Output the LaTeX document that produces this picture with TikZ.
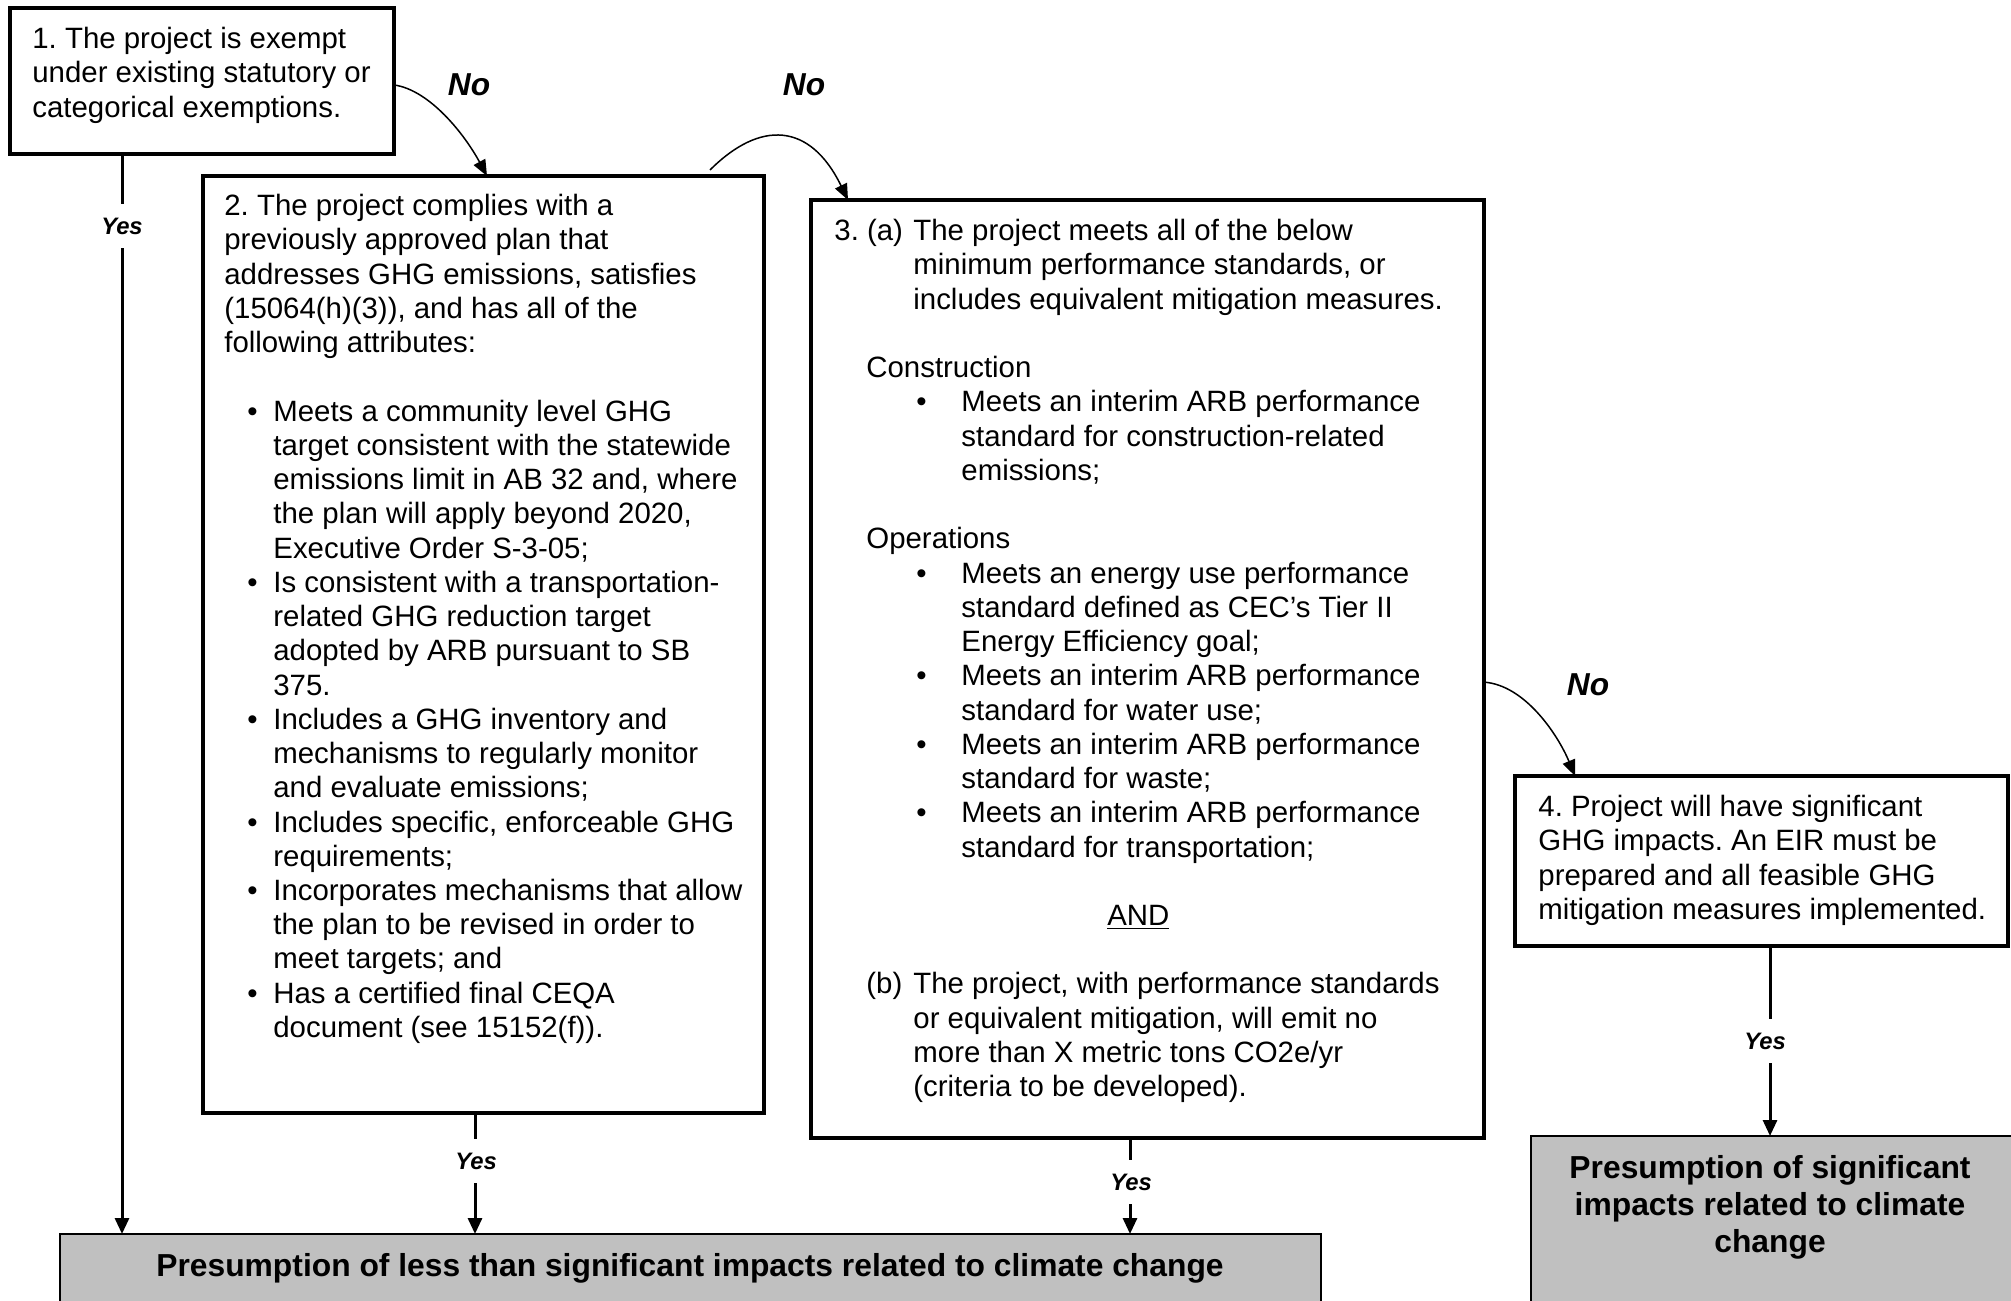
\documentclass[tikz,border=0pt]{standalone}
\usepackage{fontspec}
\setmainfont{Liberation Sans}
\usetikzlibrary{arrows.meta,calc}
\definecolor{gfill}{HTML}{C0C0C0}
\frenchspacing
\newcommand\bua{\makebox[11.5pt]{}\makebox[13pt][l]{\textbullet}}
\newcommand\ina{\makebox[24.5pt]{}}
\newcommand\bub{\makebox[41pt]{}\makebox[22.5pt][l]{\textbullet}}
\newcommand\inb{\makebox[63.5pt]{}}
\newcommand\inc{\makebox[39.5pt]{}}
\newcommand\ind{\makebox[16pt]{}}
\begin{document}
\frenchspacing
\begin{tikzpicture}[x=0.5pt,y=-0.5pt,
  box/.style={draw, line width=2pt, inner sep=0, outer sep=0, anchor=north west},
  gbox/.style={draw, line width=1pt, fill=gfill, inner sep=0, outer sep=0, anchor=north west},
  txt/.style={anchor=north west, inner sep=0, align=left, font=\fontsize{14.7}{17.12}\selectfont},
  btxt/.style={inner sep=0, align=center, font=\fontsize{15.9}{18.5}\selectfont\bfseries},
  vline/.style={line width=1.5pt, -{Triangle[length=8pt,width=7pt]}},
  cline/.style={line width=0.75pt, -{Triangle[length=8pt,width=6.5pt]}},
  yeslbl/.style={font=\fontsize{11.9}{14}\selectfont\bfseries\itshape, fill=white, inner xsep=2pt, inner ysep=7pt},
  nolbl/.style={font=\fontsize{15.85}{18}\selectfont\bfseries\itshape, inner sep=0}]
\useasboundingbox (0,0) rectangle (2011,1300);
% boxes
\node[box, minimum width=192pt, minimum height=73pt] (b1) at (10,8) {};
\node[box, minimum width=280.5pt, minimum height=468.5pt] (b2) at (203,176) {};
\node[box, minimum width=336.5pt, minimum height=469pt] (b3) at (811,200) {};
\node[box, minimum width=246.5pt, minimum height=85pt] (b4) at (1515,776) {};
\node[gbox, minimum width=630.5pt, minimum height=45pt] (b5) at (60,1234) {};
\node[gbox, minimum width=242.5pt, minimum height=90pt] (b6) at (1531,1136) {};
% texts
\node[txt] (t1) at (32,27) {1. The project is exempt\\under existing statutory or\\categorical exemptions.};
\node[txt] (t2) at (224,194) {2. The project complies with a\\
previously approved plan that\\
addresses GHG emissions, satisfies\\
(15064(h)(3)), and has all of the\\
following attributes:\\
\mbox{}\\
\bua Meets a community level GHG\\
\ina target consistent with the statewide\\
\ina emissions limit in AB 32 and, where\\
\ina the plan will apply beyond 2020,\\
\ina Executive Order S-3-05;\\
\bua Is consistent with a transportation-\\
\ina related GHG reduction target\\
\ina adopted by ARB pursuant to SB\\
\ina 375.\\
\bua Includes a GHG inventory and\\
\ina mechanisms to regularly monitor\\
\ina and evaluate emissions;\\
\bua Includes specific, enforceable GHG\\
\ina requirements;\\
\bua Incorporates mechanisms that allow\\
\ina the plan to be revised in order to\\
\ina meet targets; and\\
\bua Has a certified final CEQA\\
\ina document (see 15152(f)).};
\node[txt] (t3) at (834,219) {\makebox[39.5pt][l]{3. (a)}The project meets all of the below\\
\inc minimum performance standards, or\\
\inc includes equivalent mitigation measures.\\
\mbox{}\\
\ind Construction\\
\bub Meets an interim ARB performance\\
\inb standard for construction-related\\
\inb emissions;\\
\mbox{}\\
\ind Operations\\
\bub Meets an energy use performance\\
\inb standard defined as CEC’s Tier II\\
\inb Energy Efficiency goal;\\
\bub Meets an interim ARB performance\\
\inb standard for water use;\\
\bub Meets an interim ARB performance\\
\inb standard for waste;\\
\bub Meets an interim ARB performance\\
\inb standard for transportation;\\
\mbox{}\\
\makebox[304pt]{\underline{AND}}\\
\mbox{}\\
\ind\makebox[23.5pt][l]{(b)}The project, with performance standards\\
\inc or equivalent mitigation, will emit no\\
\inc more than X metric tons CO2e/yr\\
\inc (criteria to be developed).};
\node[txt] (t4) at (1538,795) {4. Project will have significant\\GHG impacts. An EIR must be\\prepared and all feasible GHG\\mitigation measures implemented.};
\node[btxt] (t5) at (690,1268) {Presumption of less than significant impacts related to climate change};
\node[btxt] (t6) at (1770,1207) {Presumption of significant\\impacts related to climate\\change};
% helper coordinates
\coordinate (xa) at (122,0);
\coordinate (xb) at (475,0);
\coordinate (xc) at (1130,0);
\coordinate (xd) at (1770,0);
\coordinate (xe) at (487,0);
\coordinate (xf) at (848,0);
\coordinate (xg) at (1575,0);
\coordinate (s3) at (710,170);
% vertical connectors
\draw[vline] (b1.south -| xa) -- (b5.north -| xa);
\draw[vline] (b2.south -| xb) -- (b5.north -| xb);
\draw[vline] (b3.south -| xc) -- (b5.north -| xc);
\draw[vline] (b4.south -| xd) -- (b6.north -| xd);
% curved connectors
\draw[cline] ($(b1.north east)!0.527!(b1.south east)$) .. controls (430,90) and (465,135) .. (b2.north -| xe);
\draw[cline] (s3) .. controls (760,120) and (810,122) .. (b3.north -| xf);
\draw[cline] ($(b3.north east)!0.514!(b3.south east)$) .. controls (1525,685) and (1558,735) .. (b4.north -| xg);
% labels
\node[yeslbl] (y1) at (122,226) {Yes};
\node[yeslbl] (y2) at (476,1161) {Yes};
\node[yeslbl] (y3) at (1131,1182) {Yes};
\node[yeslbl] (y4) at (1765,1041) {Yes};
\node[nolbl] (n1) at (469,85) {No};
\node[nolbl] (n2) at (804,85) {No};
\node[nolbl] (n3) at (1588,685) {No};
\end{tikzpicture}
\end{document}
